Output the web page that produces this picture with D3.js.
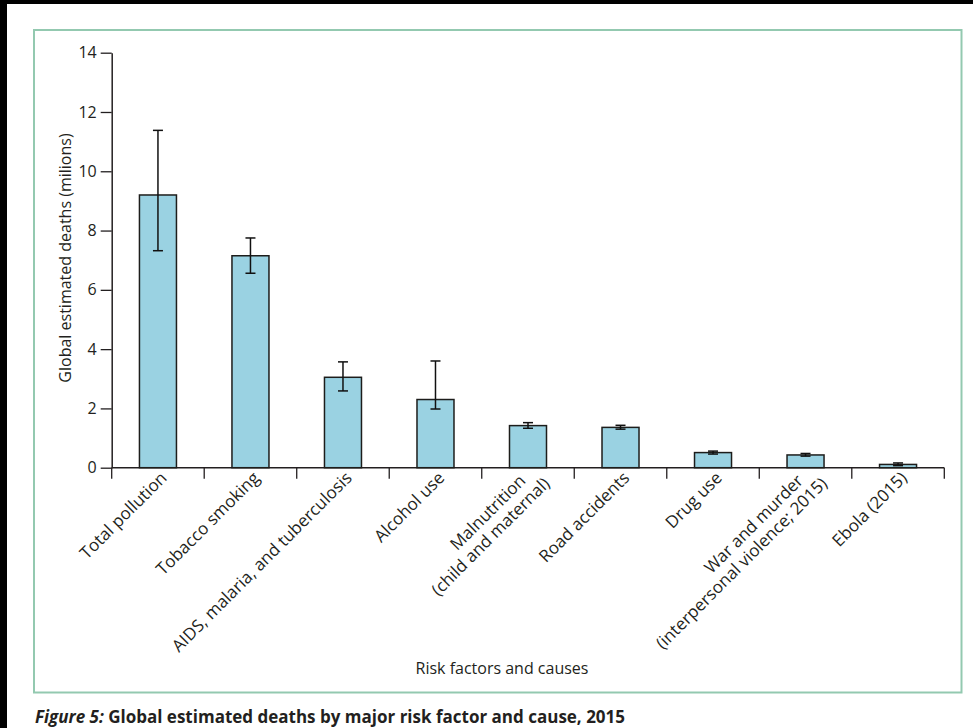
<!DOCTYPE html>
<html>
<head>
<meta charset="utf-8">
<script src="https://cdn.jsdelivr.net/npm/d3@7/dist/d3.min.js"></script>
<style>
  html, body { margin: 0; padding: 0; background: #fff; }
  svg { display: block; }
  text { font-family: "Open Sans", Lato, sans-serif; fill: #231f20; }
</style>
</head>
<body>
<svg id="chart" width="973" height="728"></svg>
<script>
// Risk factors and causes, each label split into its printed lines
const categories = [
  ["Total pollution"],
  ["Tobacco smoking"],
  ["AIDS, malaria, and tuberculosis"],
  ["Alcohol use"],
  ["Malnutrition", "(child and maternal)"],
  ["Road accidents"],
  ["Drug use"],
  ["War and murder", "(interpersonal violence; 2015)"],
  ["Ebola (2015)"]
];
// Estimated deaths, millions
const deaths = [9.2, 7.15, 3.05, 2.3, 1.42, 1.36, 0.51, 0.43, 0.11];
// Uncertainty range, millions
const lower = [7.32, 6.56, 2.59, 1.98, 1.33, 1.30, 0.46, 0.39, 0.07];
const upper = [11.38, 7.75, 3.57, 3.60, 1.52, 1.43, 0.56, 0.48, 0.16];
const yTicks = [0, 2, 4, 6, 8, 10, 12, 14];

const yTitle = "Global estimated deaths (milions)";
const xTitle = "Risk factors and causes";

const svg = d3.select("#chart");
const ink = "#231f20";
const font = "'Open Sans', Lato, sans-serif";

// page edge strips
svg.append("rect").attr("x", 0).attr("y", 0).attr("width", 973).attr("height", 4).attr("fill", "#000");
svg.append("rect").attr("x", 0).attr("y", 0).attr("width", 7).attr("height", 728).attr("fill", "#000");

// figure frame
svg.append("rect")
  .attr("x", 34).attr("y", 30).attr("width", 927.5).attr("height", 662.5)
  .attr("fill", "none").attr("stroke", "#93c9b0").attr("stroke-width", 2);

const keys = categories.map(c => c.join(" "));
const x = d3.scaleBand().domain(keys).range([111.7, 944.3]).paddingInner(0.6).paddingOuter(0.3);
const y = d3.scaleLinear().domain([0, 14]).range([467.7, 52.7]);
const x0 = x.range()[0];
const step = x.step();

// y axis
const yAxis = svg.append("g").attr("transform", `translate(${x0},0)`)
  .call(d3.axisLeft(y).tickValues(yTicks).tickSize(11).tickPadding(4).tickSizeOuter(0));
yAxis.select(".domain").attr("stroke", ink).attr("stroke-width", 1.5);
yAxis.selectAll(".tick line").attr("stroke", ink).attr("stroke-width", 1.3);
yAxis.selectAll(".tick text").attr("font-size", 16).attr("fill", ink)
  .style("font-family", font);

// x axis baseline with ticks at category boundaries
const gx = svg.append("g");
gx.append("line")
  .attr("x1", x0).attr("x2", x.range()[1])
  .attr("y1", y(0)).attr("y2", y(0))
  .attr("stroke", ink).attr("stroke-width", 1.5);
gx.selectAll("line.bound").data(d3.range(keys.length + 1)).join("line")
  .attr("class", "bound")
  .attr("x1", i => x0 + i * step).attr("x2", i => x0 + i * step)
  .attr("y1", y(0)).attr("y2", y(0) + 11)
  .attr("stroke", ink).attr("stroke-width", 1.3);

// bars
svg.append("g").selectAll("rect").data(keys).join("rect")
  .attr("x", d => x(d))
  .attr("width", x.bandwidth())
  .attr("y", (d, i) => y(deaths[i]))
  .attr("height", (d, i) => y(0) - y(deaths[i]))
  .attr("fill", "#9ad2e2")
  .attr("stroke", "#1d1d1b").attr("stroke-width", 1.5);

// error bars
const eb = svg.append("g").attr("stroke", "#111").attr("stroke-width", 1.5);
keys.forEach((k, i) => {
  const cx = x(k) + x.bandwidth() / 2;
  eb.append("line").attr("x1", cx).attr("x2", cx).attr("y1", y(lower[i])).attr("y2", y(upper[i]));
  eb.append("line").attr("x1", cx - 5).attr("x2", cx + 5).attr("y1", y(upper[i])).attr("y2", y(upper[i]));
  eb.append("line").attr("x1", cx - 5).attr("x2", cx + 5).attr("y1", y(lower[i])).attr("y2", y(lower[i]));
});

// rotated category labels
const lab = svg.append("g");
categories.forEach((lines, i) => {
  const cx = x(keys[i]) + x.bandwidth() / 2;
  const g = lab.append("g").attr("transform", `translate(${cx + 10},479) rotate(-45)`);
  if (lines.length === 1) {
    g.append("text").attr("text-anchor", "end").attr("font-size", 17).text(lines[0]);
  } else {
    g.append("text").attr("text-anchor", "end").attr("font-size", 17)
      .attr("x", -10).attr("y", -6).text(lines[0]);
    g.append("text").attr("text-anchor", "end").attr("font-size", 17)
      .attr("x", 5).attr("y", 13).text(lines[1]);
  }
});

// axis titles
svg.append("text")
  .attr("transform", "translate(71,258) rotate(-90)")
  .attr("text-anchor", "middle").attr("font-size", 16).text(yTitle);
svg.append("text")
  .attr("x", 502).attr("y", 674)
  .attr("text-anchor", "middle").attr("font-size", 16).text(xTitle);

// caption
const cap = svg.append("text").attr("x", 35).attr("y", 723).attr("font-size", 17).attr("font-weight", 700);
cap.append("tspan").attr("font-style", "italic").text("Figure 5: ");
cap.append("tspan").text("Global estimated deaths by major risk factor and cause, 2015");
</script>
</body>
</html>
